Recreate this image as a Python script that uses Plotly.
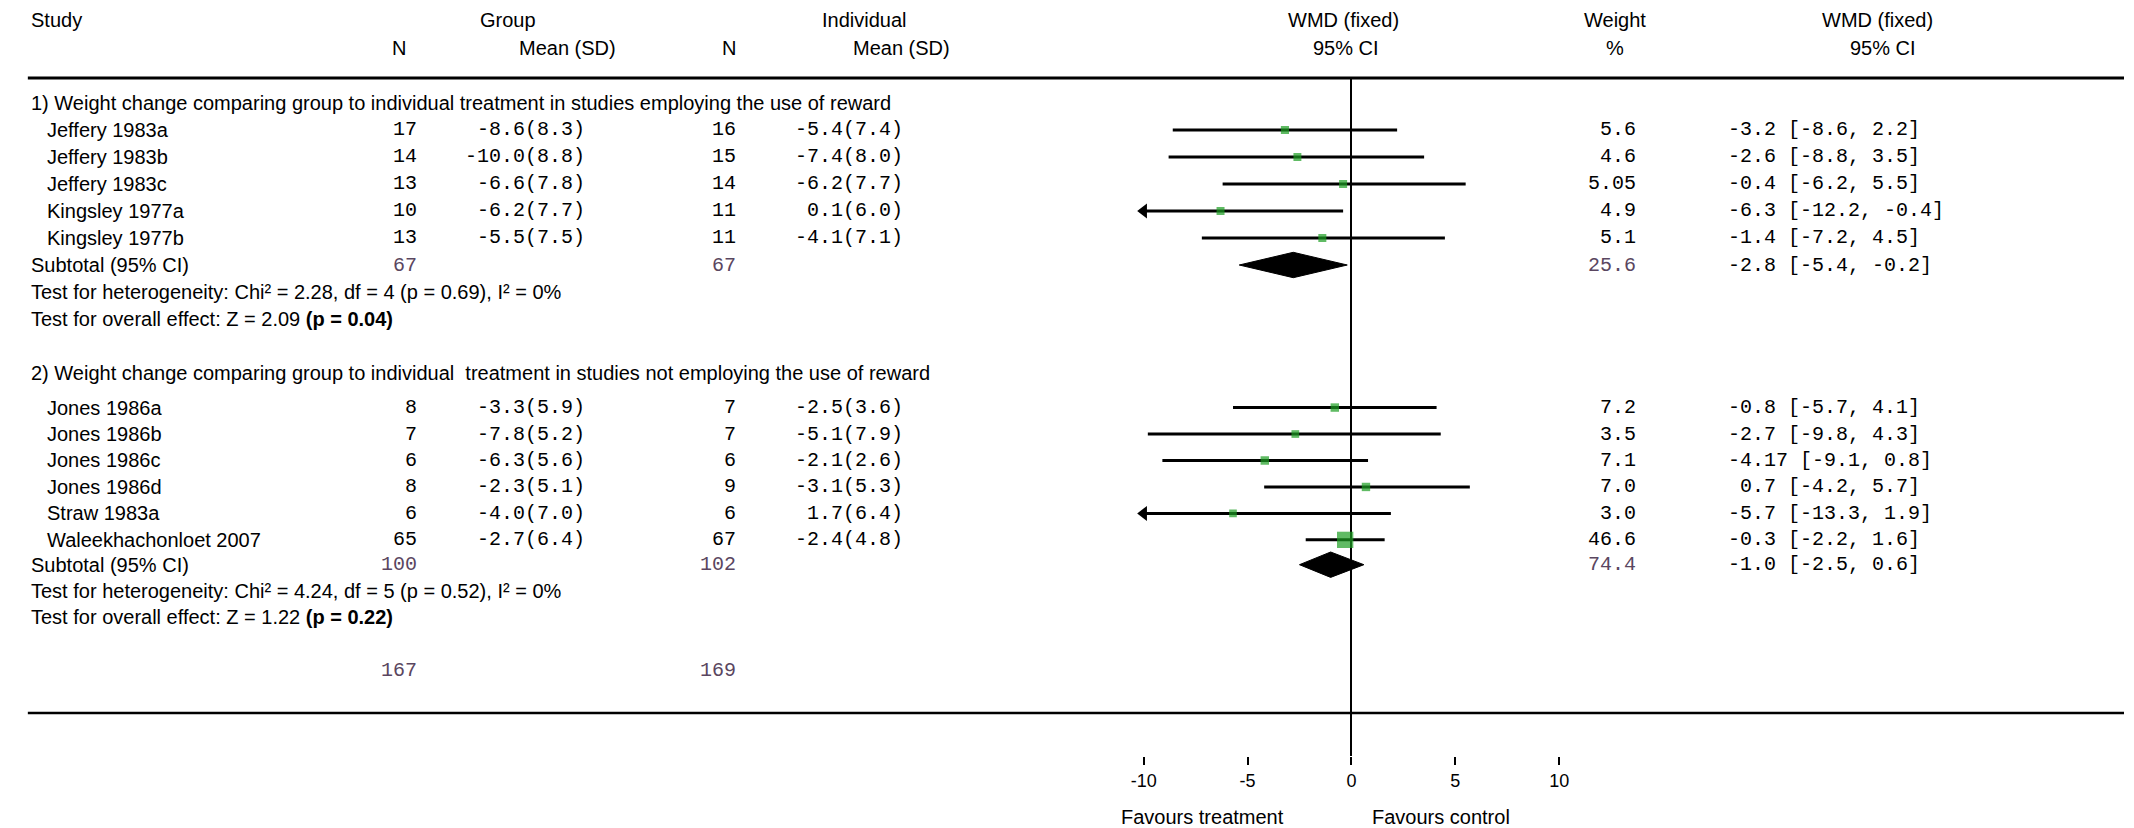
import plotly.graph_objects as go

# ---------------- data ----------------
section_titles = [
    "1) Weight change comparing group to individual treatment in studies employing the use of reward",
    "2) Weight change comparing group to individual  treatment in studies not employing the use of reward",
]

studies1 = ["Jeffery 1983a", "Jeffery 1983b", "Jeffery 1983c", "Kingsley 1977a", "Kingsley 1977b"]
grp_n1 = [17, 14, 13, 10, 13]
grp_mean1 = [-8.6, -10.0, -6.6, -6.2, -5.5]
grp_sd1 = [8.3, 8.8, 7.8, 7.7, 7.5]
ind_n1 = [16, 15, 14, 11, 11]
ind_mean1 = [-5.4, -7.4, -6.2, 0.1, -4.1]
ind_sd1 = [7.4, 8.0, 7.7, 6.0, 7.1]
weight1 = [5.6, 4.6, 5.05, 4.9, 5.1]
wmd1 = [-3.2, -2.6, -0.4, -6.3, -1.4]
lo1 = [-8.6, -8.8, -6.2, -12.2, -7.2]
hi1 = [2.2, 3.5, 5.5, -0.4, 4.5]
sub1_n = [67, 67]
sub1_weight = 25.6
sub1_wmd = [-2.8, -5.4, -0.2]
het1 = "Test for heterogeneity: Chi² = 2.28, df = 4 (p = 0.69), I² = 0%"
eff1 = "Test for overall effect: Z = 2.09 <b>(p = 0.04)</b>"

studies2 = ["Jones 1986a", "Jones 1986b", "Jones 1986c", "Jones 1986d", "Straw 1983a", "Waleekhachonloet 2007"]
grp_n2 = [8, 7, 6, 8, 6, 65]
grp_mean2 = [-3.3, -7.8, -6.3, -2.3, -4.0, -2.7]
grp_sd2 = [5.9, 5.2, 5.6, 5.1, 7.0, 6.4]
ind_n2 = [7, 7, 6, 9, 6, 67]
ind_mean2 = [-2.5, -5.1, -2.1, -3.1, 1.7, -2.4]
ind_sd2 = [3.6, 7.9, 2.6, 5.3, 6.4, 4.8]
weight2 = [7.2, 3.5, 7.1, 7.0, 3.0, 46.6]
wmd2 = [-0.8, -2.7, -4.17, 0.7, -5.7, -0.3]
lo2 = [-5.7, -9.8, -9.1, -4.2, -13.3, -2.2]
hi2 = [4.1, 4.3, 0.8, 5.7, 1.9, 1.6]
sub2_n = [100, 102]
sub2_weight = 74.4
sub2_wmd = [-1.0, -2.5, 0.6]
het2 = "Test for heterogeneity: Chi² = 4.24, df = 5 (p = 0.52), I² = 0%"
eff2 = "Test for overall effect: Z = 1.22 <b>(p = 0.22)</b>"

total_n = [167, 169]

tick_vals = [-10, -5, 0, 5, 10]
tick_labels = ["-10", "-5", "0", "5", "10"]
x_range = [-10, 10]

# ---------------- layout helpers ----------------
W, H = 2134, 828
ROW0, ROWH = 103, 27          # pixel of row 0 and row height
TOP_RULE, BOT_RULE, AXIS_BOT = 78, 713, 756
SANS = "Liberation Sans, Arial, sans-serif"
MONO = "Liberation Mono, Courier New, monospace"
FS = 20
MS = 20
TOTCOL = "#5a4660"

# per-section row spacing (in rows): heading gap, study step, subtotal gap, het gap, effect gap
SEC_STYLE = [
    dict(start=0.0, head=1.0, step=1.0, sub=1.0, het=1.0, eff=1.0),
    dict(start=10.0, head=1.28, step=0.98, sub=0.92, het=0.98, eff=0.95),
]
TOTAL_ROW = 21.0


def px(x):
    return x / W


def py(y):
    return 1 - y / H


def fnum(v):
    return f"{v:.2f}" if round(v, 1) != v else f"{v:.1f}"


def fsigned(v):
    s = fnum(v)
    return s if v < 0 else " " + s


def ci_text(m, l, h):
    return f"{fsigned(m)} [{fnum(l)}, {fnum(h)}]"


annotations = []


def txt(x, y, text, anchor="left", font=SANS, size=FS, color="black", yref="y"):
    annotations.append(dict(
        x=px(x), y=y, xref="paper", yref=yref, text=text, showarrow=False,
        xanchor=anchor, yanchor="middle",
        font=dict(family=font, size=size, color=color)))


# column positions (pixels)
X_LEFT, X_STUDY = 16, 32
X_GN, X_GM, X_IN, X_IM = 410, 580, 733, 902
X_W, X_CI = 1643, 1732

# headers
hy1, hy2 = py(20), py(48)
txt(X_LEFT, hy1, "Study", yref="paper")
txt(500, hy1, "Group", "center", yref="paper")
txt(390, hy2, "N", "center", yref="paper")
txt(561, hy2, "Mean (SD)", "center", yref="paper")
txt(861, hy1, "Individual", "center", yref="paper")
txt(724, hy2, "N", "center", yref="paper")
txt(898, hy2, "Mean (SD)", "center", yref="paper")
txt(1345, hy1, "WMD (fixed)", "center", yref="paper")
txt(1348, hy2, "95% CI", "center", yref="paper")
txt(1619, hy1, "Weight", "center", yref="paper")
txt(1619, hy2, "%", "center", yref="paper")
txt(1885, hy1, "WMD (fixed)", "center", yref="paper")
txt(1890, hy2, "95% CI", "center", yref="paper")

sections = [
    (studies1, grp_n1, grp_mean1, grp_sd1, ind_n1, ind_mean1, ind_sd1, weight1, wmd1, lo1, hi1,
     sub1_n, sub1_weight, sub1_wmd, het1, eff1),
    (studies2, grp_n2, grp_mean2, grp_sd2, ind_n2, ind_mean2, ind_sd2, weight2, wmd2, lo2, hi2,
     sub2_n, sub2_weight, sub2_wmd, het2, eff2),
]

line_x, line_y = [], []
sq_x, sq_y, sq_size = [], [], []
arr_x, arr_y = [], []
diamonds = []

for si, sec in enumerate(sections):
    (st, gn, gm, gs, inn, im, isd, wt, md, lo, hi, sn, sw, smd, het, eff) = sec
    sty = SEC_STYLE[si]
    r = sty["start"]
    txt(X_LEFT, r, section_titles[si])
    r += sty["head"]
    for k in range(len(st)):
        txt(X_STUDY, r, st[k])
        txt(X_GN, r, str(gn[k]), "right", MONO, MS)
        txt(X_GM, r, f"{fnum(gm[k])}({fnum(gs[k])})", "right", MONO, MS)
        txt(X_IN, r, str(inn[k]), "right", MONO, MS)
        txt(X_IM, r, f"{fnum(im[k])}({fnum(isd[k])})", "right", MONO, MS)
        txt(X_W, r, str(wt[k]), "right", MONO, MS)
        txt(X_CI, r, ci_text(md[k], lo[k], hi[k]), "left", MONO, MS)
        line_x += [lo[k], hi[k], None]
        line_y += [r, r, None]
        sq_x.append(md[k])
        sq_y.append(r)
        sq_size.append(7 + 0.2 * wt[k])
        if lo[k] < x_range[0]:
            arr_x.append(x_range[0])
            arr_y.append(r)
        if k < len(st) - 1:
            r += sty["step"]
    r += sty["sub"]
    txt(X_LEFT, r, "Subtotal (95% CI)")
    txt(X_GN, r, str(sn[0]), "right", MONO, MS, TOTCOL)
    txt(X_IN, r, str(sn[1]), "right", MONO, MS, TOTCOL)
    txt(X_W, r, str(sw), "right", MONO, MS, TOTCOL)
    txt(X_CI, r, ci_text(*smd), "left", MONO, MS)
    diamonds.append((smd, r))
    r += sty["het"]
    txt(X_LEFT, r, het)
    r += sty["eff"]
    txt(X_LEFT, r, eff)

txt(X_GN, TOTAL_ROW, str(total_n[0]), "right", MONO, MS, TOTCOL)
txt(X_IN, TOTAL_ROW, str(total_n[1]), "right", MONO, MS, TOTCOL)

# favours labels
txt(1202, py(817), "Favours treatment", "center", yref="paper")
txt(1444, py(817), "Favours control", "center", yref="paper")

fig = go.Figure()
fig.add_trace(go.Scatter(x=line_x, y=line_y, mode="lines",
                         line=dict(color="black", width=3), hoverinfo="skip"))
fig.add_trace(go.Scatter(x=arr_x, y=arr_y, mode="markers", cliponaxis=False,
                         marker=dict(symbol="triangle-left", size=13, color="black"),
                         hoverinfo="skip"))
fig.add_trace(go.Scatter(x=sq_x, y=sq_y, mode="markers",
                         marker=dict(symbol="square", size=sq_size, color="#1c9e22",
                                     line=dict(width=0)),
                         hoverinfo="skip"))
DH = 0.47
for (m, l, h), rr in diamonds:
    fig.add_trace(go.Scatter(x=[l, m, h, m, l], y=[rr, rr - DH, rr, rr + DH, rr],
                             mode="lines", fill="toself", fillcolor="black",
                             line=dict(color="black", width=1), hoverinfo="skip"))

y_lo = (AXIS_BOT - ROW0) / ROWH
y_hi = (TOP_RULE - ROW0) / ROWH

fig.update_layout(
    width=W, height=H, margin=dict(l=0, r=0, t=0, b=0),
    paper_bgcolor="white", plot_bgcolor="rgba(0,0,0,0)",
    showlegend=False, annotations=annotations,
    xaxis=dict(domain=[px(1143), px(1563)], range=x_range, showgrid=False,
               zeroline=True, zerolinecolor="black", zerolinewidth=2,
               showline=False, ticks="outside", ticklen=8, tickwidth=2, tickcolor="black",
               tickvals=tick_vals, ticktext=tick_labels, ticklabelstandoff=0,
               tickfont=dict(family=SANS, size=18, color="black")),
    yaxis=dict(domain=[py(AXIS_BOT), py(TOP_RULE)], range=[y_lo, y_hi],
               visible=False, zeroline=False, showgrid=False),
    shapes=[
        dict(type="line", xref="paper", yref="paper", x0=px(15), x1=1,
             y0=py(TOP_RULE), y1=py(TOP_RULE), line=dict(color="black", width=3)),
        dict(type="line", xref="paper", yref="paper", x0=px(15), x1=1,
             y0=py(BOT_RULE), y1=py(BOT_RULE), line=dict(color="black", width=2.5)),
    ],
)

fig.write_html("out.html", config={"displayModeBar": False},
               post_script="document.body.style.margin='0';document.body.style.overflow='hidden';")
